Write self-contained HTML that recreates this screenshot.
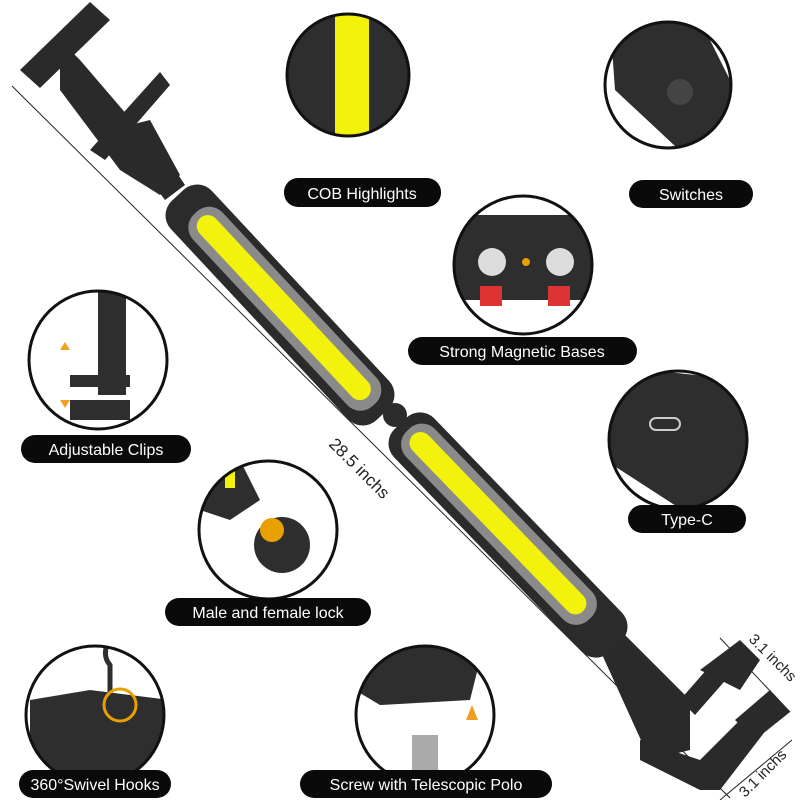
<!DOCTYPE html>
<html><head><style>
body{margin:0;background:#fff;width:800px;height:800px;overflow:hidden}
text{font-family:"Liberation Sans",Arial,sans-serif}
.l{fill:#fff;font-size:16px;text-anchor:middle}
</style></head><body>
<svg width="800" height="800" viewBox="0 0 800 800" xmlns="http://www.w3.org/2000/svg">
<defs>
<clipPath id="c1"><circle cx="348" cy="75" r="60"/></clipPath>
<clipPath id="c2"><circle cx="668" cy="85" r="62"/></clipPath>
<clipPath id="c3"><circle cx="523" cy="265" r="68"/></clipPath>
<clipPath id="c4"><circle cx="678" cy="440" r="68"/></clipPath>
<clipPath id="c5"><circle cx="98" cy="360" r="68"/></clipPath>
<clipPath id="c6"><circle cx="268" cy="530" r="68"/></clipPath>
<clipPath id="c7"><circle cx="95" cy="715" r="68"/></clipPath>
<clipPath id="c8"><circle cx="425" cy="715" r="68"/></clipPath>
</defs>
<line x1="12" y1="86" x2="730" y2="798" stroke="#222" stroke-width="1"/>
<text x="0" y="0" font-size="17" fill="#222" transform="translate(328,445) rotate(45)">28.5 inchs</text>
<line x1="720" y1="638" x2="790" y2="712" stroke="#222"/>
<text font-size="15" fill="#222" transform="translate(748,640) rotate(45)">3.1 inchs</text>
<line x1="720" y1="800" x2="792" y2="740" stroke="#222"/>
<text font-size="15" fill="#222" transform="translate(745,798) rotate(-45)">3.1 inchs</text>
<g fill="#2a2a2a">
<polygon points="20,70 90,2 110,20 40,88"/>
<polygon points="60,40 80,60 140,130 150,160 120,170 60,90"/>
<polygon points="90,150 160,72 170,85 105,160"/>
<polygon points="110,130 150,120 180,175 160,195 120,170"/>
<polygon points="150,180 175,170 185,185 165,200"/>
</g>
<g fill="#2a2a2a">
<polygon points="600,650 620,630 690,700 690,750 650,760"/>
<polygon points="680,700 715,660 730,675 695,715"/>
<polygon points="640,740 700,760 730,730 760,700 780,712 720,790 700,790 640,760"/>
<polygon points="700,670 740,640 760,660 740,690"/>
<polygon points="735,720 770,690 790,712 755,740"/>
</g>
<g transform="translate(280,305) rotate(47)">
<rect x="-150" y="-28" width="300" height="56" rx="20" fill="#2b2b2b"/>
<rect x="-125" y="-21" width="262" height="40" rx="18" fill="#8a8a8a"/>
<rect x="-118" y="-12" width="245" height="22" rx="11" fill="#f2f20c"/>
</g>
<g transform="translate(508,535) rotate(46)">
<rect x="-155" y="-28" width="310" height="56" rx="20" fill="#2b2b2b"/>
<rect x="-145" y="-21" width="262" height="40" rx="18" fill="#8a8a8a"/>
<rect x="-138" y="-12" width="245" height="22" rx="11" fill="#f2f20c"/>
</g>
<circle cx="395" cy="415" r="12" fill="#2b2b2b"/>
<g clip-path="url(#c1)"><rect x="280" y="10" width="140" height="140" fill="#2e2e2e"/><rect x="335" y="10" width="34" height="140" fill="#f2f20c"/></g>
<circle cx="348" cy="75" r="61" fill="none" stroke="#111" stroke-width="3"/>
<g clip-path="url(#c2)"><rect x="600" y="20" width="140" height="140" fill="#fff"/><polygon points="610,20 700,20 740,100 740,160 690,160 615,90" fill="#2e2e2e"/><circle cx="680" cy="92" r="13" fill="#444"/></g>
<circle cx="668" cy="85" r="63" fill="none" stroke="#111" stroke-width="3"/>
<g clip-path="url(#c3)"><rect x="450" y="190" width="150" height="150" fill="#fff"/><rect x="455" y="215" width="145" height="85" rx="10" fill="#2e2e2e"/><circle cx="492" cy="262" r="14" fill="#ddd"/><circle cx="560" cy="262" r="14" fill="#ddd"/><circle cx="526" cy="262" r="4" fill="#e8a000"/><rect x="480" y="286" width="22" height="20" fill="#d33"/><rect x="548" y="286" width="22" height="20" fill="#d33"/></g>
<circle cx="523" cy="265" r="69" fill="none" stroke="#111" stroke-width="3"/>
<g clip-path="url(#c4)"><rect x="605" y="365" width="150" height="150" fill="#fff"/><polygon points="605,380 650,370 740,380 755,420 755,515 690,515 605,460" fill="#2e2e2e"/><rect x="650" y="418" width="30" height="12" rx="6" fill="none" stroke="#ccc" stroke-width="2"/></g>
<circle cx="678" cy="440" r="69" fill="none" stroke="#111" stroke-width="3"/>
<g clip-path="url(#c5)"><rect x="98" y="285" width="28" height="110" fill="#2e2e2e"/><rect x="70" y="375" width="60" height="12" fill="#2e2e2e"/><rect x="70" y="400" width="60" height="20" fill="#2e2e2e"/><polygon points="60,350 65,342 70,350" fill="#f0a020"/><polygon points="60,400 65,408 70,400" fill="#f0a020"/></g>
<circle cx="98" cy="360" r="69" fill="none" stroke="#111" stroke-width="3"/>
<g clip-path="url(#c6)"><polygon points="200,470 240,460 260,500 230,520 200,510" fill="#2e2e2e"/><rect x="225" y="470" width="10" height="18" fill="#f2f20c"/><circle cx="282" cy="545" r="28" fill="#2e2e2e"/><circle cx="272" cy="530" r="12" fill="#e8a000"/></g>
<circle cx="268" cy="530" r="69" fill="none" stroke="#111" stroke-width="3"/>
<g clip-path="url(#c7)"><polygon points="30,700 90,690 170,700 170,790 30,790" fill="#2e2e2e"/><path d="M110,700 L110,665 A18,18 0 1 1 140,660" fill="none" stroke="#2e2e2e" stroke-width="5"/><circle cx="120" cy="705" r="16" fill="none" stroke="#e8a000" stroke-width="3"/></g>
<circle cx="95" cy="715" r="69" fill="none" stroke="#111" stroke-width="3"/>
<g clip-path="url(#c8)"><polygon points="355,640 440,630 480,660 470,700 380,705 355,690" fill="#2e2e2e"/><rect x="412" y="735" width="26" height="50" fill="#aaa"/><polygon points="466,720 472,705 478,720" fill="#f0a020"/></g>
<circle cx="425" cy="715" r="69" fill="none" stroke="#111" stroke-width="3"/>
<g fill="#0a0a0a">
<rect x="284" y="178" width="157" height="29" rx="14"/>
<rect x="629" y="180" width="124" height="28" rx="14"/>
<rect x="408" y="337" width="229" height="28" rx="14"/>
<rect x="628" y="505" width="118" height="28" rx="14"/>
<rect x="21" y="435" width="170" height="28" rx="14"/>
<rect x="165" y="598" width="206" height="28" rx="14"/>
<rect x="19" y="770" width="152" height="28" rx="14"/>
<rect x="300" y="770" width="252" height="28" rx="14"/>
</g>
<text class="l" x="362" y="199">COB Highlights</text>
<text class="l" x="691" y="200">Switches</text>
<text class="l" x="522" y="357">Strong Magnetic Bases</text>
<text class="l" x="687" y="525">Type-C</text>
<text class="l" x="106" y="455">Adjustable Clips</text>
<text class="l" x="268" y="618">Male and female lock</text>
<text class="l" x="95" y="790">360°Swivel Hooks</text>
<text class="l" x="426" y="790">Screw with Telescopic Polo</text>
</svg>
</body></html>
